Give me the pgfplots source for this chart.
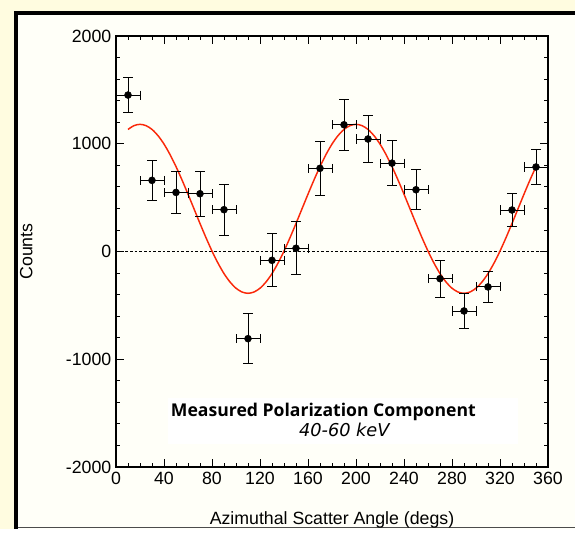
\documentclass[border=0pt]{standalone}
\usepackage{fontspec}
\setmainfont{Liberation Sans}
\newfontfamily\boxfont{Open Sans}
\newfontfamily\boxitfont{DejaVu Sans}
\usepackage{pgfplots}
\usepackage{pgfplotstable}
\pgfplotsset{compat=1.18}
\definecolor{bgouter}{RGB}{255,252,224}
\definecolor{bginner}{RGB}{255,255,248}
\definecolor{fitred}{RGB}{250,40,10}
\pgfplotstableread{
x y ex ey
10 1452 10 163
30 660 10 187
50 548 10 198
70 536 10 210
90 388 10 235
110 -809 10 234
130 -82 10 247
150 30 10 247
170 772 10 249
190 1176 10 235
210 1044 10 221
230 820 10 210
250 573 10 186
270 -252 10 172
290 -552 10 158
310 -329 10 147
330 385 10 150
350 784 10 162
}\datatab
\pgfplotstableread{
x y
10 1133
15 1168
20 1180
25 1168
30 1133
35 1075
40 997
45 900
50 788
55 664
60 532
65 396
70 260
75 128
80 4
85 -108
90 -205
95 -283
100 -341
105 -376
110 -388
115 -376
120 -341
125 -283
130 -205
135 -108
140 4
145 128
150 260
155 396
160 532
165 664
170 788
175 900
180 997
185 1075
190 1133
195 1168
200 1180
205 1168
210 1133
215 1075
220 997
225 900
230 788
235 664
240 532
245 396
250 260
255 128
260 4
265 -108
270 -205
275 -283
280 -341
285 -376
290 -388
295 -376
300 -341
305 -283
310 -205
315 -108
320 4
325 128
330 260
335 396
340 532
345 664
350 788
}\fittab
\begin{document}
\begin{tikzpicture}
\begin{scope}[x=0.75pt,y=0.75pt]
\path[use as bounding box] (0,0) rectangle (575,529);
\fill[bgouter] (0,0) rectangle (575,529);
\fill[bginner] (14,0) rectangle (575,518);
\fill[black] (14,0) rectangle (18,518);
\fill[black] (14,514) rectangle (575,518);
\draw[black!70, line width=1.1pt] (18,1.5) -- (575,1.5);
\coordinate (axorig) at (116,62);
\end{scope}
\begin{axis}[
  at={(axorig)}, anchor=south west,
  scale only axis, width=324pt, height=323.25pt,
  xmin=0, xmax=360, ymin=-2000, ymax=2000,
  xtick={0,40,...,360}, ytick={-2000,-1000,...,2000},
  minor x tick num=3, minor y tick num=4,
  major tick length=6pt, minor tick length=3pt,
  tick style={black, line width=0.6pt},
  axis line style={line width=0.9pt},
  tick label style={font=\fontsize{13.3}{15}\selectfont},
  /pgf/number format/assume math mode=true,
  /pgf/number format/1000 sep={},
  scaled ticks=false,
  xlabel={Azimuthal Scatter Angle (degs)},
  ylabel={Counts},
  label style={font=\fontsize{13.3}{15}\selectfont},
  xlabel style={at={(axis description cs:0.5,-0.122)}, anchor=center},
  ylabel style={at={(axis description cs:-0.208,0.5)}, anchor=center},
]
\addplot[black, line width=0.7pt, dash pattern=on 2pt off 1.5pt, forget plot] coordinates {(0,0) (360,0)};
\addplot[fitred, line width=1.1pt, smooth] table[x=x, y=y] {\fittab};
\addplot[black, only marks, mark=*, mark size=2.6pt,
  error bars/.cd,
    x dir=both, x explicit, y dir=both, y explicit,
    error bar style={line width=0.7pt, black},
    error mark options={rotate=90, mark size=3.4pt, line width=0.7pt, black},
] table[x=x, y=y, x error=ex, y error=ey] {\datatab};
\end{axis}
\begin{scope}[x=0.75pt,y=0.75pt]
\fill[white] (168,85) rectangle (518,131);
\node[font=\boxfont\bfseries\fontsize{13.2}{15}\selectfont, inner sep=0pt, anchor=base] at (323.4,112.3) {Measured Polarization Component};
\node[font=\boxitfont\itshape\fontsize{13.3}{15}\selectfont, inner sep=0pt, anchor=base] at (344.3,92) {40-60 keV};
\end{scope}
\end{tikzpicture}
\end{document}
